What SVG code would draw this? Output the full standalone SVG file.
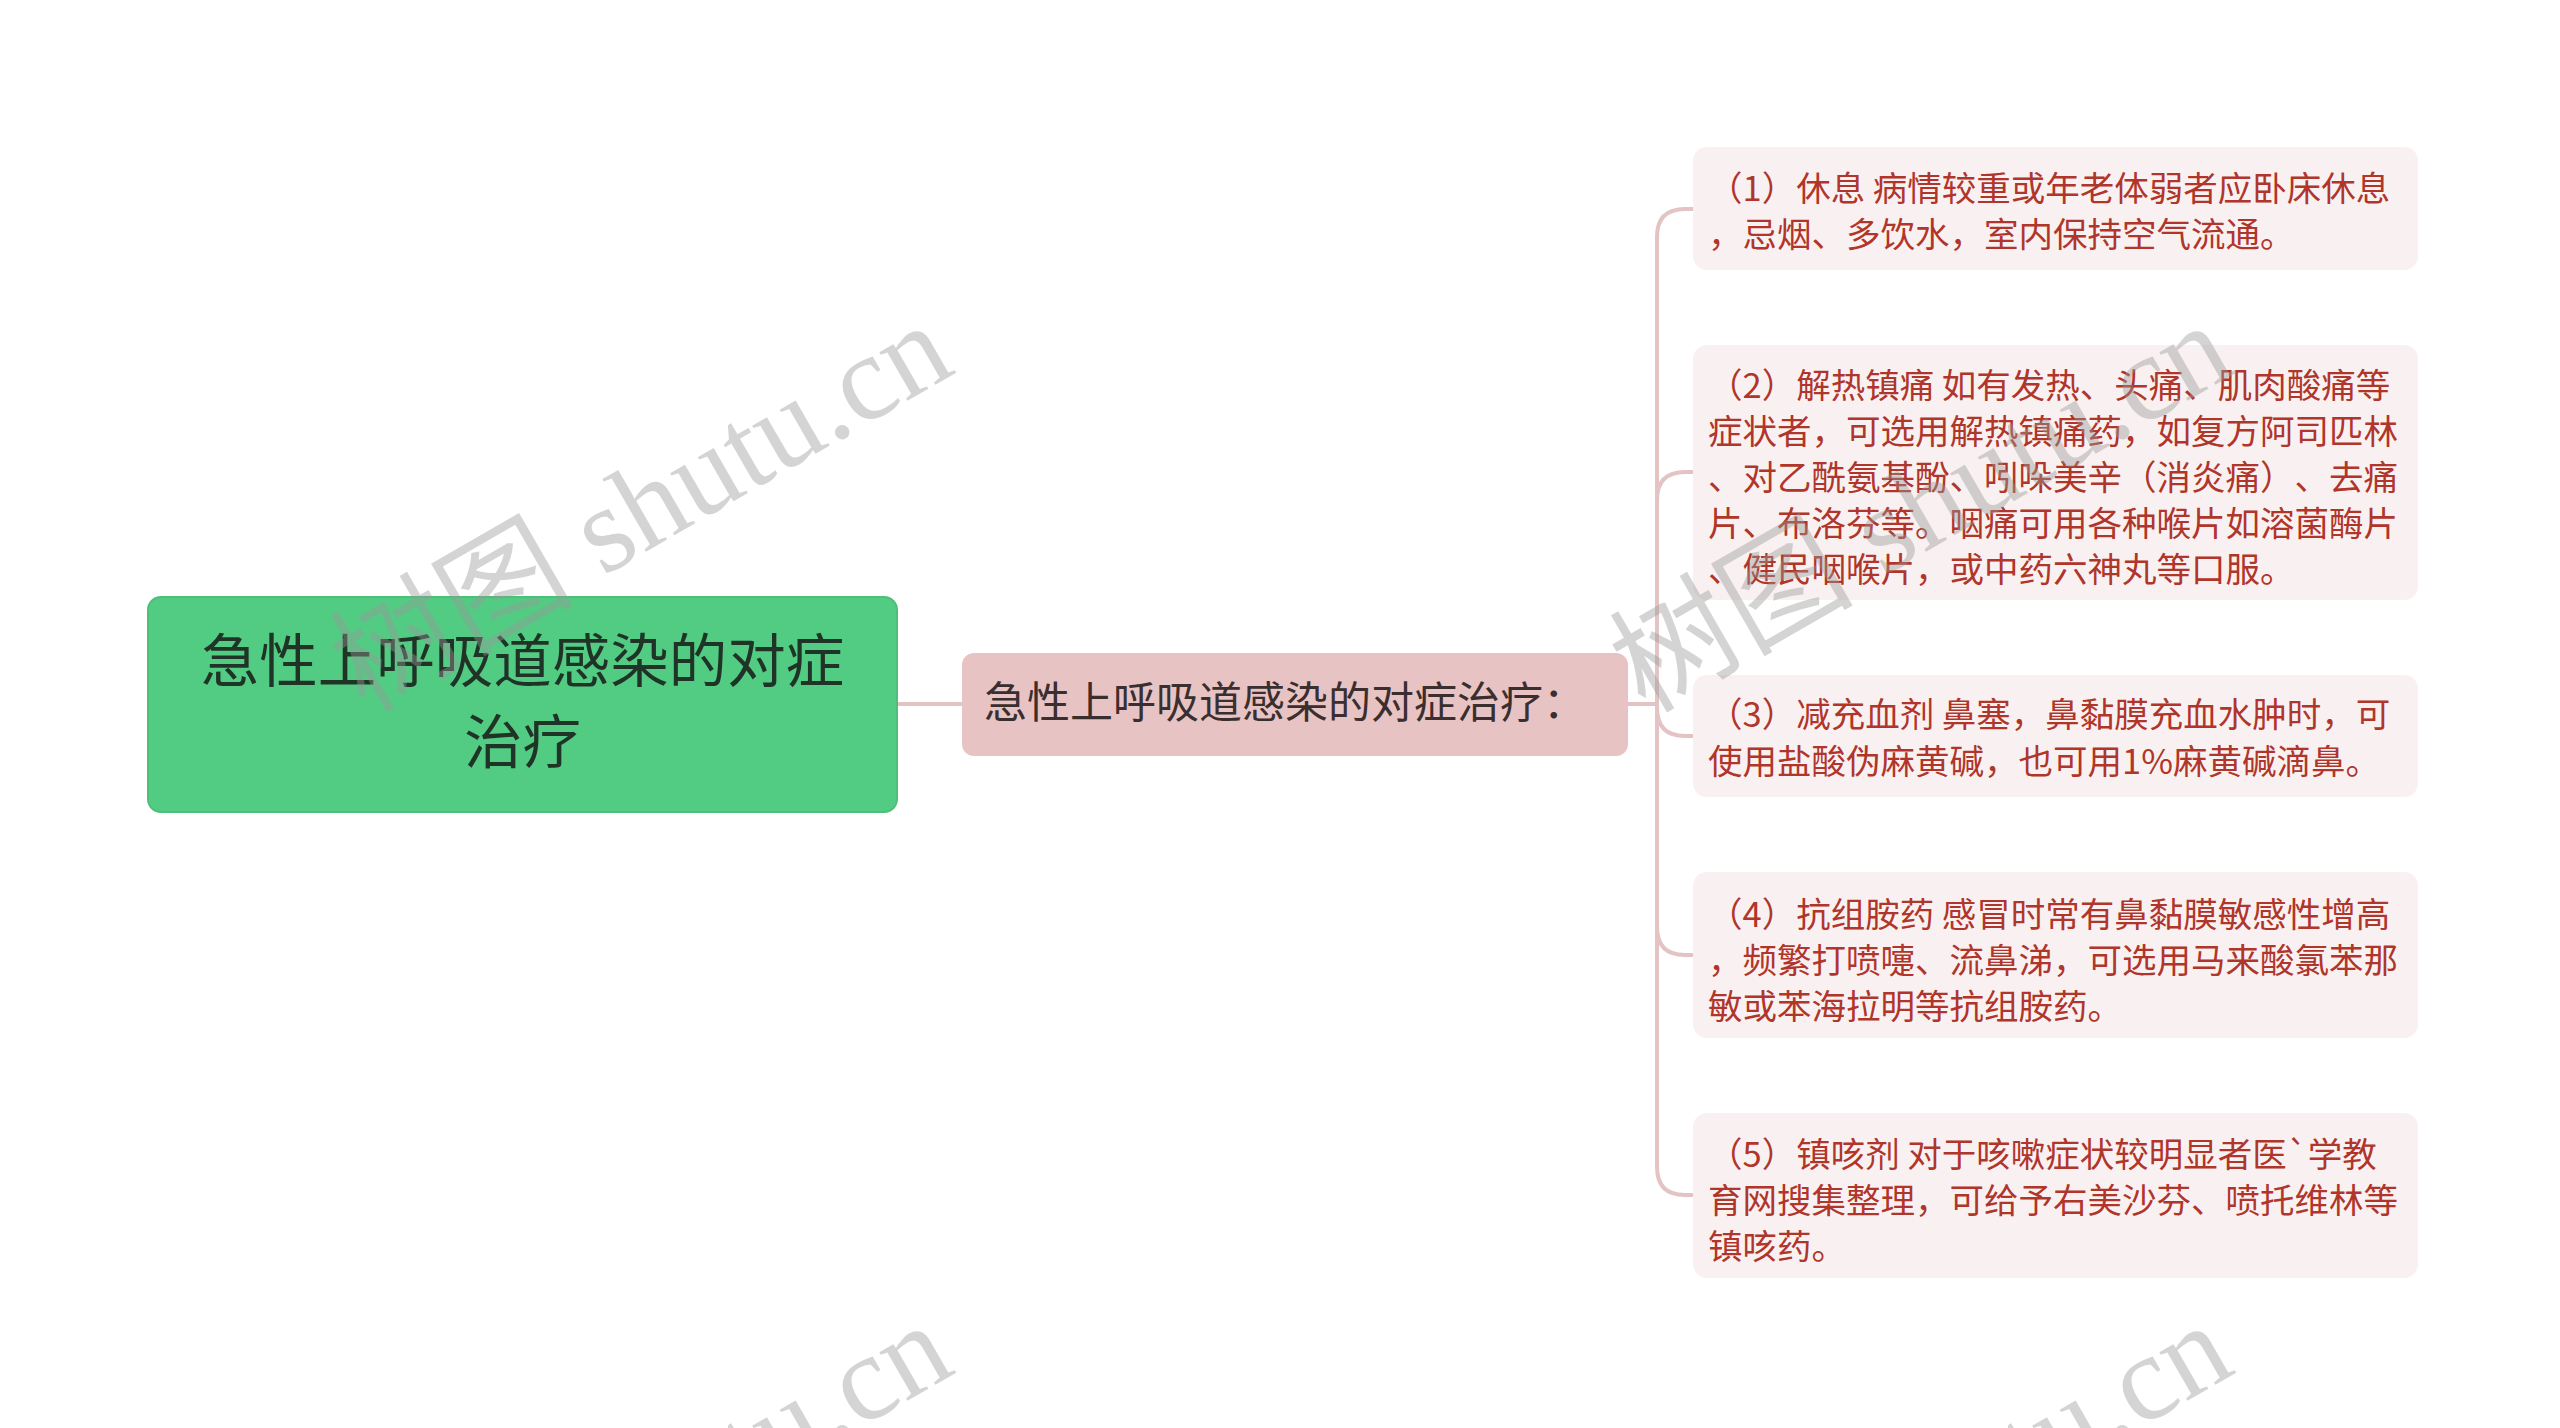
<svg xmlns="http://www.w3.org/2000/svg" width="2560" height="1428" viewBox="0 0 2560 1428">
<style>
.root{fill:#52cc83;stroke:#4cc07b;stroke-width:2}
.mid{fill:#e8c3c3}
.leaf{fill:#f9f1f1}
.conn{fill:none;stroke:#e3c3c3;stroke-width:4}
.t{font-family:"Noto Sans CJK SC","Noto Sans",sans-serif;text-spacing-trim:space-all}
.rt{font-size:58.5px;fill:#1f3326;text-anchor:middle}
.mt{font-size:43px;fill:#3a2e2e}
.lt{font-size:34.5px;fill:#b0352a}
.wm{font-family:"Liberation Serif","Noto Sans CJK SC",serif;font-size:122px;fill:#999999;fill-opacity:0.42}
</style>
<rect width="2560" height="1428" fill="#ffffff"/>
<g id="connectors">
<path class="conn" d="M897,704 H962"/>
<path class="conn" d="M1628,704 H1657 V237 Q1657,209 1685,209 H1693"/>
<path class="conn" d="M1657,704 V500 Q1657,472 1685,472 H1693"/>
<path class="conn" d="M1657,704 V708 Q1657,736 1685,736 H1693"/>
<path class="conn" d="M1657,704 V927 Q1657,955 1685,955 H1693"/>
<path class="conn" d="M1657,704 V1167 Q1657,1195 1685,1195 H1693"/>
</g>
<g id="root">
<rect class="root" x="148" y="597" width="749" height="215" rx="13"/>
<text class="t rt" x="522.5" y="682">急性上呼吸道感染的对症</text>
<text class="t rt" x="522.5" y="763">治疗</text>
</g>
<g id="middle">
<rect class="mid" x="962" y="653" width="666" height="103" rx="12"/>
<text class="t mt" x="984" y="718">急性上呼吸道感染的对症治疗：</text>
</g>
<g id="leaf1">
<rect class="leaf" x="1693" y="147" width="725" height="123" rx="14"/>
<text class="t lt" x="1708" y="201">（1）休息 病情较重或年老体弱者应卧床休息</text>
<text class="t lt" x="1708" y="247">，忌烟、多饮水，室内保持空气流通。</text>
</g>
<g id="leaf2">
<rect class="leaf" x="1693" y="345" width="725" height="255" rx="14"/>
<text class="t lt" x="1708" y="398">（2）解热镇痛 如有发热、头痛、肌肉酸痛等</text>
<text class="t lt" x="1708" y="444">症状者，可选用解热镇痛药，如复方阿司匹林</text>
<text class="t lt" x="1708" y="490">、对乙酰氨基酚、吲哚美辛（消炎痛）、去痛</text>
<text class="t lt" x="1708" y="536">片、布洛芬等。咽痛可用各种喉片如溶菌酶片</text>
<text class="t lt" x="1708" y="582">、健民咽喉片，或中药六神丸等口服。</text>
</g>
<g id="leaf3">
<rect class="leaf" x="1693" y="675" width="725" height="122" rx="14"/>
<text class="t lt" x="1708" y="727">（3）减充血剂 鼻塞，鼻黏膜充血水肿时，可</text>
<text class="t lt" x="1708" y="774">使用盐酸伪麻黄碱，也可用1%麻黄碱滴鼻。</text>
</g>
<g id="leaf4">
<rect class="leaf" x="1693" y="872" width="725" height="166" rx="14"/>
<text class="t lt" x="1708" y="927">（4）抗组胺药 感冒时常有鼻黏膜敏感性增高</text>
<text class="t lt" x="1708" y="973">，频繁打喷嚏、流鼻涕，可选用马来酸氯苯那</text>
<text class="t lt" x="1708" y="1019">敏或苯海拉明等抗组胺药。</text>
</g>
<g id="leaf5">
<rect class="leaf" x="1693" y="1113" width="725" height="165" rx="14"/>
<text class="t lt" x="1708" y="1167">（5）镇咳剂 对于咳嗽症状较明显者医`学教</text>
<text class="t lt" x="1708" y="1213">育网搜集整理，可给予右美沙芬、喷托维林等</text>
<text class="t lt" x="1708" y="1259">镇咳药。</text>
</g>
<g id="watermarks">
<text class="wm" transform="translate(365,714) rotate(-30)">树图 shutu.cn</text>
<text class="wm" transform="translate(1645,714) rotate(-30)">树图 shutu.cn</text>
<text class="wm" transform="translate(365,1714) rotate(-30)">树图 shutu.cn</text>
<text class="wm" transform="translate(1645,1714) rotate(-30)">树图 shutu.cn</text>
</g>
</svg>
